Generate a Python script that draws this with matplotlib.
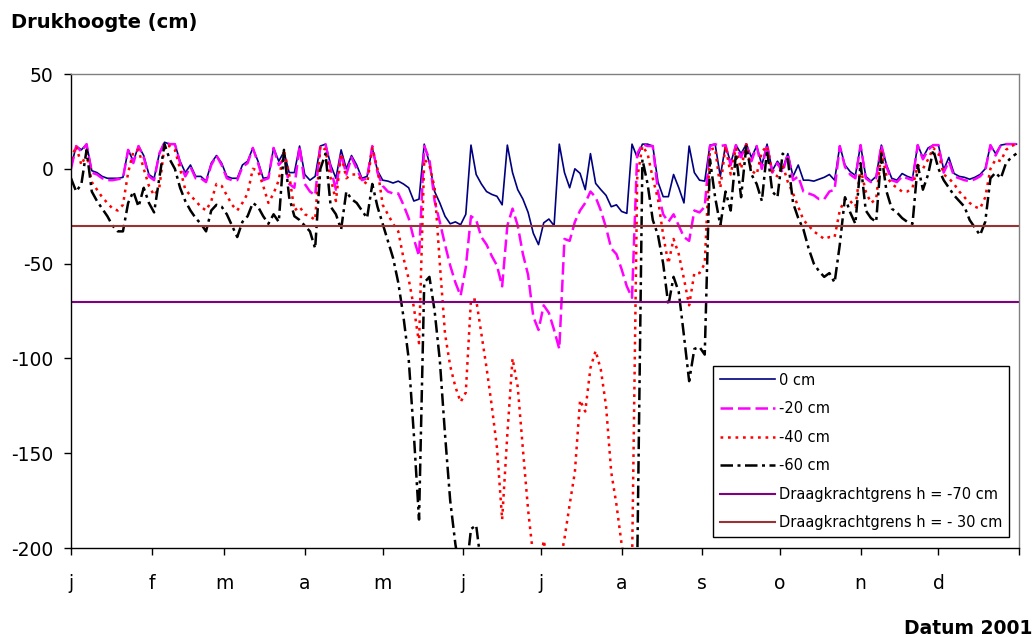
import numpy as np
import pandas as pd
import matplotlib
matplotlib.use('Agg')
import matplotlib.pyplot as plt

plt.rcParams['font.family'] = ['DejaVu Sans']
plt.rcParams['axes.unicode_minus'] = False

# pressure head (cm) read every second day, 1 jan - 31 dec 2001
dates = pd.date_range('2001-01-01', '2001-12-31', freq='2D')

h_0 = [1, 12, 10, 13, -1, -2, -4, -5, -5, -5,
       -4.5, 10, 4, 12, 7, -3, -5, 8, 14, 13,
       13, 4, -2, 2, -4, -4, -6.5, 3, 7, 3,
       -4, -5, -5, 2, 4, 11, 4, -5, -4.5, 11,
       4, 9, -2, -2, 12, -3, -6, -4, 12, 13,
       2, -5, 10, 0, 7, 2, -5, -4, 11, -1,
       -6, -6.5, -7.5, -6.5, -8, -10, -17, -16, 13, 3,
       -12, -18, -25, -29, -28, -29.5, -24, 12.5, -3, -8,
       -12, -13.5, -14.5, -19, 12.5, -2, -11, -16, -23, -34,
       -40, -28.5, -26.5, -30, 13, -2, -10, 0, -2.4, -11,
       8, -7.7, -11, -14, -20, -19, -22.5, -23.5, 13, 6,
       13, 13, 12, -7, -14.7, -14.7, -3, -10, -18, 12,
       -2, -6, -6.5, 12.5, 13, -4, 12.5, 3, 12.5, 8,
       13, 6, 12, 2, 13, -1, 4, 0, 8, -4,
       2, -6, -6, -6.5, -5.5, -4.5, -3, -6, 12, 2,
       -1.5, -3.5, 12.5, -4, -6.5, -4, 12.5, 2, -5, -6,
       -2.5, -4, -5, 12.5, 6, 11, 12.5, 12.5, -0.5, 6,
       -2.5, -4, -4.5, -5.5, -4.5, -3, 0, 12.5, 8, 12.5,
       13, 13, 13]

h_20 = [0, 12, 9, 13, -2, -3, -5, -6, -6, -5.5,
        -5, 10, 3, 12, 6, -4, -6, 8, 14, 13,
        13, 3, -4, 1, -5, -5, -7, 2, 7, 2,
        -5, -6, -6, 1, 3, 11, 3, -6, -5, 11,
        2, 5, -8, -10, 12, -8, -12, -14, 12, 13,
        0, -11, 8, -3, 6, 0, -6, -5, 12, -2,
        -9, -12, -13, -13, -19, -26, -37, -46, 12, 5,
        -17, -28, -40, -51, -60, -67, -52, -25, -27, -36,
        -40, -46, -51, -62, -30, -21, -30, -45, -56, -78,
        -85, -72, -76, -85, -95, -37, -38, -28, -22, -18,
        -12, -15, -22, -31, -42, -45, -53, -62, -68, 8,
        13, 12, 12, -12, -24, -28, -24, -30, -36, -38,
        -22, -23, -20, 12, 13, 12, 12.5, 2, 12.5, 6,
        13, 4, 12, 0, 13, -2, 3, -2, 8, -6,
        -4, -12, -13, -14, -16, -16, -12, -11, 12, 1,
        -3, -5, 12.5, -5, -7, -5, 12.5, 1, -6, -7,
        -4, -5, -6, 12.5, 5, 10, 12.5, 12.5, -2, 4,
        -4, -5, -6, -6.5, -5.5, -4, -1, 12.5, 7, 12.5,
        13, 13, 13]

h_40 = [5, 12, 2, 8, -7, -11, -15, -18, -21, -22,
        -19, -2, 9, 10, 0, -9, -14, -10, 12, 12,
        10, 0, -11, -14, -17, -20, -22, -17, -8, -9,
        -14, -19, -22, -18, -13, 0, -1, -9, -18, -13,
        -6, 10, -3, -22, -20, -24, -25, -27, 12, 10,
        -5, -17, 8, -5, -3, -3, -6, -8, 11, 0,
        -19, -24, -29, -33, -47, -58, -73, -92, 5, 2,
        -10, -50, -87, -104, -115, -123, -118, -69, -69, -87,
        -105, -125, -147, -185, -140, -100, -115, -148, -180, -205,
        -215, -196, -210, -215, -210, -195, -177, -160, -122, -128,
        -105, -96, -106, -125, -160, -177, -198, -215, -210, -5,
        12, 8, -5, -16, -35, -50, -37, -45, -58, -72,
        -55, -55, -50, 10, 11, -10, 12, -3, 11, 0,
        13, -1, -3, 9, 12, -2, -4, 2, -7, -13,
        -20, -27, -30, -33, -35, -37, -36, -36, -22, -16,
        -17, -20, 0, -12, -18, -16, 9, -4, -8, -10,
        -12, -12, -10, 2, 0, 5, 11, 8, -3, -5,
        -8, -12, -15, -18, -20, -21, -15, 0, 5, 4,
        10, 12, 13]

h_60 = [-5, -12, -8, 10, -12, -17, -21, -25, -30, -33,
        -33, -18, -12, -20, -10, -18, -23, -5, 13, 5,
        0, -10, -17, -22, -26, -29, -33, -22, -19, -20,
        -24, -30, -36, -28, -25, -18, -20, -25, -29, -24,
        -28, 10, -15, -25, -27, -30, -33, -42, 0, 8,
        -20, -24, -32, -12, -16, -18, -22, -26, -8, -20,
        -29, -38, -47, -60, -78, -100, -140, -185, -60, -57,
        -75, -101, -140, -175, -198, -215, -215, -190, -188, -210,
        -220, -220, -220, -220, -220, -220, -220, -220, -220, -220,
        -220, -220, -220, -220, -220, -220, -220, -220, -220, -220,
        -220, -220, -220, -220, -220, -220, -220, -220, -220, -210,
        5, -8, -27, -35, -50, -72, -57, -65, -88, -112,
        -95, -94, -98, 5, -15, -30, -12, -22, 8, -15,
        12, -3, -8, -17, 10, -12, -15, 8, 5, -18,
        -26, -32, -42, -50, -54, -57, -55, -60, -40, -15,
        -23, -29, 3, -22, -26, -28, 8, -12, -21, -23,
        -26, -28, -29, 2, -11, -3, 10, 0, -6, -10,
        -14, -17, -20, -27, -31, -35, -28, -5, -2, -5,
        3, 6, 8]

grens_70 = -70
grens_30 = -30

month_labels = ['j', 'f', 'm', 'a', 'm', 'j', 'j', 'a', 's', 'o', 'n', 'd', '']
month_starts = pd.date_range('2001-01-01', '2002-01-01', freq='MS')

fig = plt.figure(figsize=(10.34, 6.37), dpi=100)
ax = fig.add_axes([71 / 1034, 89 / 637, 948 / 1034, 474 / 637])

l0, = ax.plot(dates, h_0, color='#000080', lw=1.2, label='0 cm')
l20, = ax.plot(dates, h_20, color='#FF00FF', lw=1.8, ls=(0, (5, 2)), label='-20 cm')
l40, = ax.plot(dates, h_40, color='#FF0000', lw=1.8, ls=(0, (1.1, 1.9)), label='-40 cm')
l60, = ax.plot(dates, h_60, color='black', lw=1.8, ls=(0, (5, 1.8, 1.2, 1.8)), label='-60 cm')
g70 = ax.axhline(grens_70, color='#800080', lw=1.5, label='Draagkrachtgrens h = -70 cm')
g30 = ax.axhline(grens_30, color='#993333', lw=1.5, label='Draagkrachtgrens h = - 30 cm')

ax.set_xlim(month_starts[0], month_starts[-1])
ax.set_ylim(-200, 50)
ax.set_yticks([-200, -150, -100, -50, 0, 50])
ax.set_xticks(month_starts)
ax.set_xticklabels(month_labels)
ax.tick_params(axis='both', direction='out', length=5, width=1, labelsize=13.5)
ax.tick_params(axis='x', pad=14)
ax.tick_params(axis='y', pad=7.5)

for s in ['left', 'bottom']:
    ax.spines[s].set_color('black')
    ax.spines[s].set_linewidth(1)
for s in ['top', 'right']:
    ax.spines[s].set_color('#808080')
    ax.spines[s].set_linewidth(1)

leg = ax.legend(handles=[l0, l20, l40, l60, g70, g30], loc='upper left',
                bbox_to_anchor=(713 / 1034, 1 - 366 / 637), bbox_transform=fig.transFigure,
                fancybox=False, edgecolor='black', framealpha=1, fontsize=10.5,
                handlelength=3.8, handletextpad=0.3, labelspacing=0.93,
                borderpad=0.45, borderaxespad=0)
leg.get_frame().set_linewidth(1.0)

fig.text(11 / 1034, 1 - 28.3 / 637, 'Drukhoogte (cm)', fontsize=14, fontweight='bold', va='baseline')
fig.text(1032 / 1034, 1 - 634 / 637, 'Datum 2001', fontsize=13.5, fontweight='bold',
         ha='right', va='baseline')

fig.savefig('out.png', dpi=100)
